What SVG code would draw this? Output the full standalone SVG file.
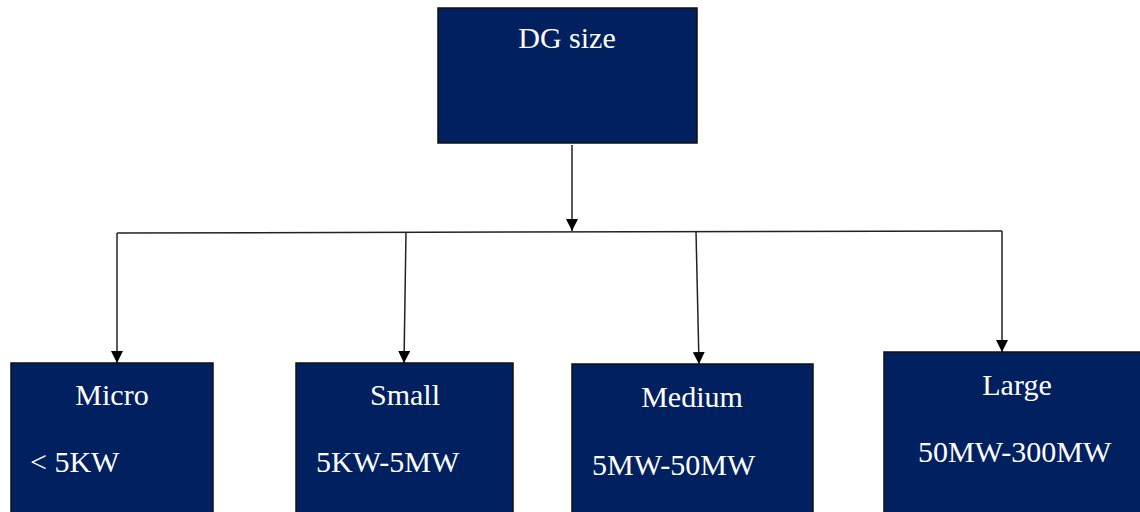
<svg xmlns="http://www.w3.org/2000/svg" width="1140" height="512" viewBox="0 0 1140 512">
<style>
.box{fill:#002060;stroke:#111;stroke-width:1.5}
.t{font-family:"Liberation Serif","Times New Roman",serif;font-size:30px;fill:#fff}
.c{text-anchor:middle}
.ln{stroke:#222;stroke-width:1.5;fill:none}
</style>
<defs>
<marker id="ah" viewBox="0 0 10 10" refX="10" refY="5" markerWidth="12" markerHeight="12" markerUnits="userSpaceOnUse" orient="auto">
<path d="M0,0 L10,5 L0,10 Z" fill="#000"/>
</marker>
</defs>
<rect width="1140" height="512" fill="#fff"/>
<g id="connectors">
<line class="ln" x1="572" y1="145" x2="572" y2="231" marker-end="url(#ah)"/>
<line class="ln" x1="117" y1="233" x2="1002" y2="231"/>
<line class="ln" x1="117" y1="233" x2="117" y2="363" marker-end="url(#ah)"/>
<line class="ln" x1="406" y1="232" x2="404" y2="363" marker-end="url(#ah)"/>
<line class="ln" x1="696" y1="231" x2="699" y2="364" marker-end="url(#ah)"/>
<line class="ln" x1="1002" y1="231" x2="1002" y2="352" marker-end="url(#ah)"/>
</g>
<g id="dgsize">
<rect class="box" x="438" y="8" width="259" height="135"/>
<text class="t c" x="567" y="48">DG size</text>
</g>
<g id="micro">
<rect class="box" x="11" y="363" width="202" height="160"/>
<text class="t c" x="112" y="405">Micro</text>
<text class="t" x="30" y="472">&lt; 5KW</text>
</g>
<g id="small">
<rect class="box" x="296" y="363" width="217" height="160"/>
<text class="t c" x="405" y="405">Small</text>
<text class="t" x="316" y="472">5KW-5MW</text>
</g>
<g id="medium">
<rect class="box" x="572" y="364" width="241" height="160"/>
<text class="t c" x="692" y="407">Medium</text>
<text class="t" x="592" y="475">5MW-50MW</text>
</g>
<g id="large">
<rect class="box" x="884" y="352" width="270" height="170"/>
<text class="t c" x="1017" y="395">Large</text>
<text class="t" x="918" y="462">50MW-300MW</text>
</g>
</svg>
